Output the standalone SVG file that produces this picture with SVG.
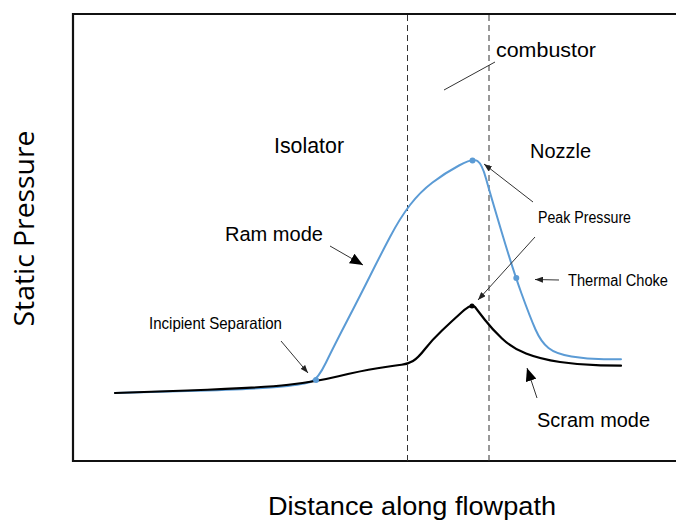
<svg xmlns="http://www.w3.org/2000/svg" width="676" height="522" viewBox="0 0 676 522">
  <defs>
    <marker id="ahs" markerUnits="userSpaceOnUse" markerWidth="8" markerHeight="6" refX="8" refY="3" orient="auto">
      <path d="M0,0 L8,3 L0,6 z" fill="#222"/>
    </marker>
    <marker id="ahb" markerUnits="userSpaceOnUse" markerWidth="13" markerHeight="11" refX="13" refY="5.5" orient="auto">
      <path d="M0,0 L13,5.5 L0,11 z" fill="#000"/>
    </marker>
  </defs>
  <style>
    .lbl { font-family: "Liberation Sans", Arial, sans-serif; fill: #000; }
    .dash { stroke: #333; stroke-width: 1; stroke-dasharray: 6 4; fill: none; }
    .thin { stroke: #333; stroke-width: 1; fill: none; }
    .blue { stroke: #5B9BD5; stroke-width: 2; fill: none; stroke-linejoin: round; stroke-linecap: round; }
    .black { stroke: #000; stroke-width: 2.2; fill: none; stroke-linejoin: round; stroke-linecap: round; }
  </style>
  <rect width="676" height="522" fill="#fff"/>

  <g id="frame">
    <path d="M678,14 L73,14 L73,461 L678,461" fill="none" stroke="#111" stroke-width="2.2"/>
  </g>

  <g id="zones">
    <line class="dash" x1="407.5" y1="15" x2="407.5" y2="461"/>
    <line class="dash" x1="489" y1="15" x2="489" y2="465"/>
  </g>

  <g id="curves">
    <path id="ram-curve" class="blue" d="M115,393 L187.5,391 Q260,389 282.5,386.5 Q305,384 311.5,381.5 Q318,379 326,362.5 Q334,346 347,321 Q360,296 370,276 Q380,256 390,237 Q400,218 410,205 Q420,192 432.5,182.5 Q445,173 459,165.5 Q473,158 477.5,161 Q482,164 486,178.5 Q490,193 501.5,231.5 Q513,270 521.5,293.5 Q530,317 535.5,329.5 Q541,342 548.5,348 Q556,354 571.5,356.5 Q587,359 604,359.2 L621,359.3"/>
    <path id="scram-curve" class="black" d="M115,393 L187.5,390.5 Q260,388 288.5,384.75 Q317,381.5 338.5,376.25 Q360,371 377.5,368.25 Q395,365.5 401.5,364.75 Q408,364 413,361 Q418,358 425,349 Q432,340 442,330.5 Q452,321 462,312 Q472,303 475,307 Q478,311 485,320 Q492,329 502,338.5 Q512,348 526,353.5 Q540,359 560,362 Q580,365 600.5,365.35 L621,365.7"/>
    <circle cx="316" cy="380" r="3" fill="#5B9BD5"/>
    <circle cx="472.5" cy="160.5" r="3" fill="#5B9BD5"/>
    <circle cx="516.3" cy="278" r="3" fill="#5B9BD5"/>
    <circle cx="472" cy="306" r="2.5" fill="#000"/>
  </g>

  <g id="connectors">
    <line class="thin" x1="495" y1="62" x2="444" y2="90"/>
    <line class="thin" x1="281" y1="341" x2="308" y2="373" marker-end="url(#ahs)"/>
    <line class="thin" x1="330" y1="246" x2="363" y2="265" marker-end="url(#ahb)"/>
    <line class="thin" x1="533" y1="202" x2="484" y2="164" marker-end="url(#ahs)"/>
    <line class="thin" x1="535" y1="237" x2="478" y2="300" marker-end="url(#ahs)"/>
    <line class="thin" x1="559" y1="280" x2="535" y2="279.5" marker-end="url(#ahs)"/>
    <line class="thin" x1="537" y1="398" x2="527" y2="368" marker-end="url(#ahb)"/>
  </g>

  <g id="labels">
    <text class="lbl" x="496" y="57" font-size="20" textLength="100" lengthAdjust="spacingAndGlyphs">combustor</text>
    <text class="lbl" x="274" y="153" font-size="22" textLength="70" lengthAdjust="spacingAndGlyphs">Isolator</text>
    <text class="lbl" x="530" y="158" font-size="21" textLength="61" lengthAdjust="spacingAndGlyphs">Nozzle</text>
    <text class="lbl" x="225" y="241" font-size="20.5" textLength="98" lengthAdjust="spacingAndGlyphs">Ram mode</text>
    <text class="lbl" x="538" y="223" font-size="16" textLength="93" lengthAdjust="spacingAndGlyphs">Peak Pressure</text>
    <text class="lbl" x="568" y="285.5" font-size="16" textLength="100" lengthAdjust="spacingAndGlyphs">Thermal Choke</text>
    <text class="lbl" x="149" y="328.5" font-size="16.5" textLength="133" lengthAdjust="spacingAndGlyphs">Incipient Separation</text>
    <text class="lbl" x="537" y="427" font-size="20.5" textLength="113" lengthAdjust="spacingAndGlyphs">Scram mode</text>
    <text class="lbl" x="268" y="515" font-size="26" textLength="288" lengthAdjust="spacingAndGlyphs">Distance along flowpath</text>
    <text transform="translate(33.5,326.5) rotate(-90)" x="0" y="0" font-family="'Open Sans', 'DejaVu Sans', sans-serif" font-size="28" fill="#000" textLength="196" lengthAdjust="spacingAndGlyphs">Static Pressure</text>
  </g>
</svg>
